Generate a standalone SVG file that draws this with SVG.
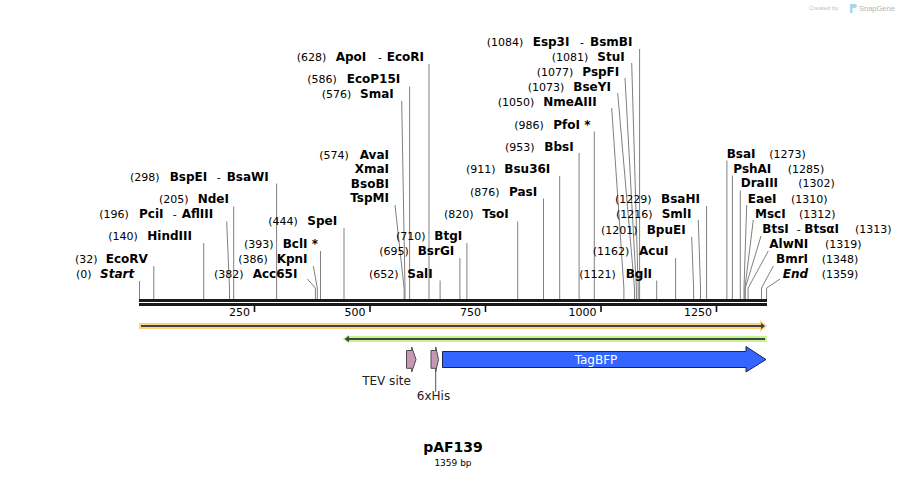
<svg xmlns="http://www.w3.org/2000/svg" width="907" height="478" viewBox="0 0 907 478">
<style>
text{font-family:"DejaVu Sans",Verdana,sans-serif;font-size:11px;fill:#000}
.b{font-weight:bold;font-size:12px}
.bi{font-weight:bold;font-style:italic;font-size:12px}
.ld{stroke:#808080;stroke-width:1;fill:none}
.tk{stroke:#111;stroke-width:1.6}
.ft{font-size:12px;fill:#222}
</style>
<rect width="907" height="478" fill="#fff"/>
<g id="logo">
<text x="809" y="10" style="font-family:'Liberation Sans',Arial,sans-serif;font-size:6px;fill:#c4c4c4">Created by</text>
<path d="M850 4h5a2 2 0 0 1 0 4h-2.5v5h-2.5z" fill="#a9d6ef"/>
<text x="859" y="11" style="font-family:'Liberation Sans',Arial,sans-serif;font-size:7.5px;fill:#b4b4b4">SnapGene</text>
</g>
<g id="backbone">
<rect x="139" y="299" width="628" height="3" fill="#1a1a1a"/>
<rect x="139" y="303" width="628" height="3" fill="#1a1a1a"/>
<path class="tk" d="M254.5 306V312M370 306V312M485.5 306V312M601 306V312M716.5 306V312"/>
<text x="250" y="316" text-anchor="end">250</text>
<text x="365.5" y="316" text-anchor="end">500</text>
<text x="481" y="316" text-anchor="end">750</text>
<text x="596.5" y="316" text-anchor="end">1000</text>
<text x="712" y="316" text-anchor="end">1250</text>
</g>
<g id="connectors">
<path class="ld" d="M139.5 281V299M153.8 266V299M203.7 243V299M233.7 206.5V299M276.6 183.5V299M320.5 251V299M344 228V299M409.6 86.5V299M429 64V299M440.1 280.5V299M459.9 258V299M466.9 243V299M517.7 221.5V299M543.5 198.5V299M559.7 176V299M579.1 153V299M594.3 131.5V299M639.6 49V299M656.7 280.5V299M675.6 258V299M706.6 206V299M726.9 160.5V299M732.4 175.5V299M740.3 190.5V299"/>
<path class="ld" d="M226.7 221.5L229.5 288V299M307.3 279L315.4 288V299M313.3 266L317.3 288V299M395 205L404.1 288V299M401.7 101L405 288V299M611.7 108L623.9 288V299M617.7 93L634.5 288V299M625 78L636.4 288V299M631.7 63L638.2 288V299M691.7 237L693.6 288V299M698.3 220L700.5 288V299M746.7 205L744 288V299M753.3 220L744.9 288V299M761 236L745.3 288V299M768.3 251L748.1 288V299M773.3 266L761.5 288V299M780 279L766.6 288V299"/>
<path d="M435.7 372V391.7" stroke="#555" stroke-width="1"/>
</g>
<g id="site-0"><text y="278.3"><tspan x="76">(0)</tspan><tspan class="bi" x="100">Start</tspan></text></g>
<g id="site-32"><text y="263"><tspan x="75">(32)</tspan><tspan class="b" x="105.7">EcoRV</tspan></text></g>
<g id="site-140"><text y="240"><tspan x="108.3">(140)</tspan><tspan class="b" x="147.3">HindIII</tspan></text></g>
<g id="site-196"><text y="218.3"><tspan x="99.3">(196)</tspan><tspan class="b" x="139">PciI</tspan><tspan x="172.7">-</tspan><tspan class="b" x="181.7">AflIII</tspan></text></g>
<g id="site-205"><text y="203.3"><tspan x="159">(205)</tspan><tspan class="b" x="197.7">NdeI</tspan></text></g>
<g id="site-298"><text y="181"><tspan x="130">(298)</tspan><tspan class="b" x="169.7">BspEI</tspan><tspan x="216.7">-</tspan><tspan class="b" x="226.7">BsaWI</tspan></text></g>
<g id="site-382"><text y="278.3"><tspan x="214">(382)</tspan><tspan class="b" x="252.7">Acc65I</tspan></text></g>
<g id="site-386"><text y="263.3"><tspan x="238.3">(386)</tspan><tspan class="b" x="276.7">KpnI</tspan></text></g>
<g id="site-393"><text y="248.3"><tspan x="244">(393)</tspan><tspan class="b" x="282.7">BclI *</tspan></text></g>
<g id="site-444"><text y="225"><tspan x="268.3">(444)</tspan><tspan class="b" x="307.3">SpeI</tspan></text></g>
<g id="site-574"><text x="319.3" y="159">(574)</text><text class="b" x="389" y="159" text-anchor="end">AvaI</text><text class="b" x="389" y="173.3" text-anchor="end">XmaI</text><text class="b" x="389" y="187.7" text-anchor="end">BsoBI</text><text class="b" x="389" y="202.3" text-anchor="end">TspMI</text></g>
<g id="site-576"><text y="98.3"><tspan x="321.7">(576)</tspan><tspan class="b" x="360">SmaI</tspan></text></g>
<g id="site-586"><text y="83.3"><tspan x="307.3">(586)</tspan><tspan class="b" x="346.7">EcoP15I</tspan></text></g>
<g id="site-628"><text y="60.7"><tspan x="296.7">(628)</tspan><tspan class="b" x="335.7">ApoI</tspan><tspan x="378">-</tspan><tspan class="b" x="386.7">EcoRI</tspan></text></g>
<g id="site-652"><text y="278.3"><tspan x="369">(652)</tspan><tspan class="b" x="407.3">SalI</tspan></text></g>
<g id="site-695"><text y="255"><tspan x="379.3">(695)</tspan><tspan class="b" x="417.7">BsrGI</tspan></text></g>
<g id="site-710"><text y="240"><tspan x="396">(710)</tspan><tspan class="b" x="434.3">BtgI</tspan></text></g>
<g id="site-820"><text y="218.3"><tspan x="444">(820)</tspan><tspan class="b" x="482.3">TsoI</tspan></text></g>
<g id="site-876"><text y="195.7"><tspan x="470">(876)</tspan><tspan class="b" x="509">PasI</tspan></text></g>
<g id="site-911"><text y="173.3"><tspan x="466">(911)</tspan><tspan class="b" x="504.3">Bsu36I</tspan></text></g>
<g id="site-953"><text y="150.7"><tspan x="505">(953)</tspan><tspan class="b" x="544.3">BbsI</tspan></text></g>
<g id="site-986"><text y="129"><tspan x="514.3">(986)</tspan><tspan class="b" x="553.3">PfoI *</tspan></text></g>
<g id="site-1050"><text y="105.7"><tspan x="497.7">(1050)</tspan><tspan class="b" x="543.3">NmeAIII</tspan></text></g>
<g id="site-1073"><text y="91"><tspan x="527.7">(1073)</tspan><tspan class="b" x="573.3">BseYI</tspan></text></g>
<g id="site-1077"><text y="76"><tspan x="536.7">(1077)</tspan><tspan class="b" x="582.3">PspFI</tspan></text></g>
<g id="site-1081"><text y="61"><tspan x="551.7">(1081)</tspan><tspan class="b" x="597.3">StuI</tspan></text></g>
<g id="site-1084"><text y="46"><tspan x="486.7">(1084)</tspan><tspan class="b" x="532.7">Esp3I</tspan><tspan x="580">-</tspan><tspan class="b" x="590">BsmBI</tspan></text></g>
<g id="site-1121"><text y="278.3"><tspan x="579.3">(1121)</tspan><tspan class="b" x="625.7">BglI</tspan></text></g>
<g id="site-1162"><text y="255"><tspan x="592.7">(1162)</tspan><tspan class="b" x="639">AcuI</tspan></text></g>
<g id="site-1201"><text y="234.3"><tspan x="601">(1201)</tspan><tspan class="b" x="646.7">BpuEI</tspan></text></g>
<g id="site-1216"><text y="217.7"><tspan x="616">(1216)</tspan><tspan class="b" x="661.7">SmlI</tspan></text></g>
<g id="site-1229"><text y="203.3"><tspan x="615">(1229)</tspan><tspan class="b" x="661">BsaHI</tspan></text></g>
<g id="site-1273"><text y="157.7"><tspan class="b" x="726.7">BsaI</tspan><tspan x="769.3">(1273)</tspan></text></g>
<g id="site-1285"><text y="172.7"><tspan class="b" x="733.3">PshAI</tspan><tspan x="787.7">(1285)</tspan></text></g>
<g id="site-1302"><text y="187.3"><tspan class="b" x="740.7">DraIII</tspan><tspan x="798.3">(1302)</tspan></text></g>
<g id="site-1310"><text y="202.7"><tspan class="b" x="747.7">EaeI</tspan><tspan x="791">(1310)</tspan></text></g>
<g id="site-1312"><text y="217.7"><tspan class="b" x="755">MscI</tspan><tspan x="799">(1312)</tspan></text></g>
<g id="site-1313"><text y="232.7"><tspan class="b" x="762.3">BtsI</tspan><tspan x="796.7">-</tspan><tspan class="b" x="804.3">BtsαI</tspan><tspan x="855">(1313)</tspan></text></g>
<g id="site-1319"><text y="248.3"><tspan class="b" x="769.3">AlwNI</tspan><tspan x="825">(1319)</tspan></text></g>
<g id="site-1348"><text y="263.3"><tspan class="b" x="776">BmrI</tspan><tspan x="821.7">(1348)</tspan></text></g>
<g id="site-1359"><text y="278.3"><tspan class="bi" x="782.7">End</tspan><tspan x="821.7">(1359)</tspan></text></g>
<g id="orf-fwd">
<path d="M139 323H760V320L767 326L760 332V329H139Z" fill="#fcd283"/>
<path d="M141 326H761.5" stroke="#444" stroke-width="2"/>
<path d="M761 322.7L765 326L761 329.3Z" fill="#444"/>
</g>
<g id="orf-rev">
<path d="M767 336V342H349V343.5L342.5 339L349 334.5V336Z" fill="#c6f590"/>
<path d="M348 339H765" stroke="#444" stroke-width="2"/>
<path d="M349 335.7L344.5 339L349 342.3Z" fill="#444"/>
</g>
<g id="feat-tev">
<path d="M406.5 350.5H411.7V347L416 359.5L411.7 372V368.3H406.5Z" fill="#c997b6" stroke="#4a4a4a" stroke-width="1"/>
<text class="ft" x="386.5" y="385" text-anchor="middle">TEV site</text>
</g>
<g id="feat-his">
<path d="M431 350.5H435.7V347L438.5 359.5L435.7 372V368.3H431Z" fill="#c997b6" stroke="#4a4a4a" stroke-width="1"/>
<text class="ft" x="433.5" y="400" text-anchor="middle">6xHis</text>
</g>
<g id="feat-tagbfp">
<path d="M442.5 351.5H746V346.5L766 359.5L746 372V367.5H442.5Z" fill="#3366ff" stroke="#1d2451" stroke-width="1"/>
<text x="596" y="364" text-anchor="middle" style="font-size:12px;fill:#fff">TagBFP</text>
</g>
<g id="title">
<text x="453" y="452" text-anchor="middle" style="font-weight:bold;font-size:14px">pAF139</text>
<text x="453" y="466" text-anchor="middle" style="font-size:9px">1359 bp</text>
</g>
</svg>
